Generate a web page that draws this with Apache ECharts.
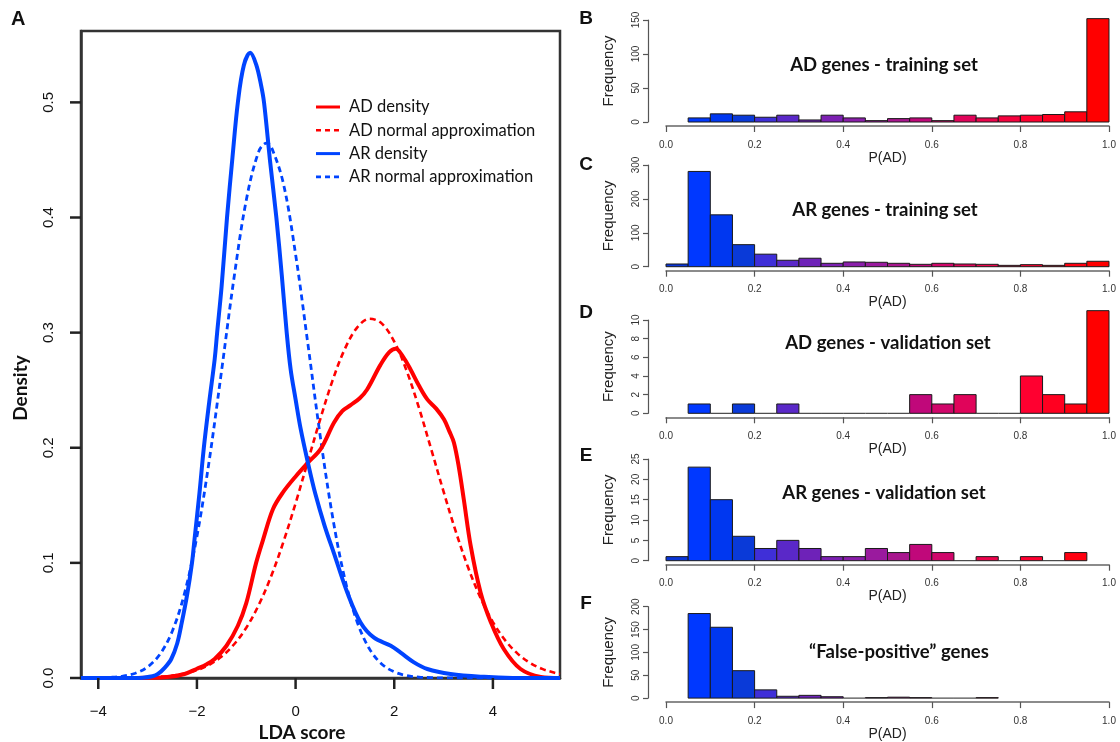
<!DOCTYPE html>
<html>
<head>
<meta charset="utf-8">
<script src="https://cdn.jsdelivr.net/npm/echarts@6/dist/echarts.min.js"></script>
<style>
html,body{margin:0;padding:0;background:#fff;}
#chart{width:1120px;height:742px;}
</style>
</head>
<body>
<div id="chart"></div>
<script>
// ---------- Panel A data (LDA score, density) ----------
const ldaTicks = [-4, -2, 0, 2, 4];
const densityTicks = [0, 0.1, 0.2, 0.3, 0.4, 0.5];
const seriesNames = ['AD density', 'AD normal approximation', 'AR density', 'AR normal approximation'];

const adDensity = [[-4.35,0],[-3.5,0],[-3.0,0.0002],[-2.6,0.0008],[-2.25,0.0035],[-2.0,0.008],[-1.8,0.012],[-1.64,0.0165],[-1.4,0.028],[-1.17,0.0454],[-1.0,0.065],[-0.8,0.1],[-0.66,0.12],[-0.46,0.1466],[-0.26,0.161],[0.01,0.1755],[0.25,0.187],[0.51,0.199],[0.78,0.222],[0.95,0.232],[1.115,0.237],[1.3,0.243],[1.45,0.2506],[1.72,0.272],[1.9,0.283],[2.03,0.286],[2.18,0.279],[2.33,0.268],[2.5,0.254],[2.67,0.242],[2.85,0.234],[3.01,0.2246],[3.12,0.214],[3.21,0.2044],[3.31,0.183],[3.41,0.155],[3.55,0.1147],[3.75,0.0743],[3.96,0.0483],[4.22,0.0252],[4.56,0.0078],[4.97,0.001],[5.36,0]];

const adNormal = [[-4.35,0],[-3.5,0.0001],[-3.0,0.0006],[-2.75,0.0011],[-2.5,0.0021],[-2.25,0.0039],[-2.0,0.0068],[-1.75,0.0115],[-1.5,0.0186],[-1.25,0.0291],[-1.0,0.0436],[-0.75,0.0632],[-0.5,0.0879],[-0.25,0.1178],[0,0.1518],[0.25,0.1884],[0.5,0.2249],[0.75,0.2585],[1.0,0.286],[1.25,0.3045],[1.5,0.3121],[1.75,0.3078],[2.0,0.2922],[2.25,0.267],[2.5,0.2348],[2.75,0.1986],[3.0,0.1619],[3.25,0.1269],[3.5,0.0957],[3.75,0.0695],[4.0,0.0486],[4.25,0.0327],[4.5,0.0212],[4.75,0.0132],[5.0,0.0079],[5.25,0.0046],[5.36,0.0035]];

const arDensity = [[-4.35,0],[-3.5,0],[-3.1,0.0003],[-2.9,0.0015],[-2.79,0.0035],[-2.65,0.009],[-2.52,0.0165],[-2.4,0.03],[-2.32,0.0454],[-2.2,0.072],[-2.1,0.1],[-2.05,0.12],[-1.95,0.16],[-1.86,0.2],[-1.75,0.24],[-1.64,0.277],[-1.59,0.3],[-1.5,0.34],[-1.39,0.4],[-1.28,0.452],[-1.17,0.5],[-1.05,0.532],[-0.92,0.543],[-0.8,0.533],[-0.7,0.515],[-0.64,0.5],[-0.52,0.45],[-0.39,0.4],[-0.28,0.35],[-0.18,0.3],[-0.1,0.268],[0,0.242],[0.1,0.217],[0.25,0.187],[0.4,0.16],[0.59,0.132],[0.78,0.108],[1.05,0.074],[1.32,0.048],[1.59,0.035],[1.93,0.028],[2.13,0.022],[2.4,0.0136],[2.67,0.0078],[3.14,0.0035],[3.82,0.001],[4.4,0.0001],[5.36,0]];

const arNormal = [[-4.35,0],[-4.0,0.0002],[-3.75,0.0006],[-3.5,0.0016],[-3.25,0.0041],[-3.0,0.0096],[-2.75,0.0206],[-2.5,0.0406],[-2.25,0.0737],[-2.0,0.123],[-1.75,0.189],[-1.5,0.267],[-1.25,0.347],[-1.0,0.415],[-0.75,0.457],[-0.59,0.4646],[-0.5,0.462],[-0.25,0.43],[0,0.368],[0.25,0.29],[0.5,0.21],[0.75,0.14],[1.0,0.0858],[1.25,0.0485],[1.5,0.0251],[1.75,0.012],[2.0,0.0053],[2.25,0.0021],[2.5,0.0008],[2.75,0.0003],[3.0,0.0001],[3.5,0],[5.36,0]];

// ---------- Panels B-F data (histograms of P(AD), bins of 0.05) ----------
const binStarts = [0,0.05,0.1,0.15,0.2,0.25,0.3,0.35,0.4,0.45,0.5,0.55,0.6,0.65,0.7,0.75,0.8,0.85,0.9,0.95];
const binWidth = 0.05;
const adTrain  = [null,6,12,10,7,10,3,10,6,2,5,6,2,10,6,9,10,11,15,152];
const arTrain  = [8,281,153,65,37,19,25,10,14,13,10,7,10,8,7,4,6,4,10,16];
const adValid  = [null,1,0,1,0,1,0,0,0,0,0,2,1,2,0,0,4,2,1,11];
const arValid  = [1,23,15,6,3,5,3,1,1,3,2,4,2,0,1,0,1,0,2,null];
const falsePos = [null,185,155,60,18,4,6,3,0,1,2,1,0,0,1,null,null,null,null,null];

const histTitles = ['AD genes - training set','AR genes - training set','AD genes - validation set','AR genes - validation set','\u201cFalse-positive\u201d genes'];
const histYMax = [150, 300, 10, 25, 200];
const histYStep = [50, 100, 2, 5, 50];

// ---------- styles ----------
const palette = ['#0a36d8','#0038ff','#0037f0','#0a3ad8','#3f2fd8','#5a28c8','#6e22b8','#7c20b2','#8a1eaa','#9a1a9e','#a8168e','#c0087a','#d0066a','#e0045a','#ec044c','#f5023e','#ff0030','#ff0020','#ff0010','#ff0000'];
const RED = '#ff0000', BLUE = '#0044ff';
const histLayout = [
  {top: 20,    height: 102,   titleY: 65,  letter: 'B', letterY: 19},
  {top: 165,   height: 101.7, titleY: 210, letter: 'C', letterY: 165},
  {top: 320,   height: 93.3,  titleY: 343, letter: 'D', letterY: 313},
  {top: 459,   height: 101.7, titleY: 493, letter: 'E', letterY: 456},
  {top: 606.7, height: 101.7, titleY: 652, letter: 'F', letterY: 604}
];
const histData = [adTrain, arTrain, adValid, arValid, falsePos];
const titleX = [884, 885, 888, 884, 899];

const minus = v => (v < 0 ? '\u2212' + Math.abs(v) : String(v));
const boxLine = {show: true, onZero: false, lineStyle: {color: '#333', width: 2.5}};
const TICK_LEN = 11;
const TICK_COLOR = '#222';

const grids = [{left: 81, top: 31, width: 479, height: 647, show: true, borderColor: '#333', borderWidth: 2.5, backgroundColor: 'transparent'}];
const xAxes = [{
  gridIndex: 0, type: 'value', min: -4.35, max: 5.36,
  axisLine: boxLine,
  axisTick: {show: false},
  axisLabel: {customValues: ldaTicks, formatter: minus, fontSize: 15, color: '#111', fontFamily: 'Liberation Sans', margin: 26},
  splitLine: {show: false}
}];
const yAxes = [{
  gridIndex: 0, type: 'value', min: 0, max: 0.562,
  axisLine: boxLine,
  axisTick: {show: false},
  axisLabel: {customValues: densityTicks, formatter: v => v.toFixed(1), rotate: 90, fontSize: 15, color: '#111', fontFamily: 'Liberation Sans', margin: 25},
  splitLine: {show: false}
}];

const series = [
  {name: seriesNames[0], type: 'line', data: adDensity, smooth: 0.35, showSymbol: false, symbol: 'none', lineStyle: {color: RED, width: 4}, itemStyle: {color: RED}, z: 3},
  {name: seriesNames[1], type: 'line', data: adNormal, smooth: 0.35, showSymbol: false, symbol: 'none', lineStyle: {color: RED, width: 2.6, type: [6, 4]}, itemStyle: {color: RED}, z: 2},
  {name: seriesNames[2], type: 'line', data: arDensity, smooth: 0.35, showSymbol: false, symbol: 'none', lineStyle: {color: BLUE, width: 4}, itemStyle: {color: BLUE}, z: 3},
  {name: seriesNames[3], type: 'line', data: arNormal, smooth: 0.35, showSymbol: false, symbol: 'none', lineStyle: {color: BLUE, width: 2.8, type: [6, 4]}, itemStyle: {color: BLUE}, z: 2}
];

const graphics = [
  {type: 'text', left: 11, top: 9, style: {text: 'A', font: 'bold 20px "Liberation Sans"', fill: '#111'}},
  {type: 'text', x: 21, y: 388, rotation: Math.PI / 2, style: {text: 'Density', font: 'bold 19px Lato', fill: '#111', textAlign: 'center', textVerticalAlign: 'middle'}},
  {type: 'text', x: 302, y: 733, style: {text: 'LDA score', font: 'bold 19px Lato', fill: '#111', textAlign: 'center', textVerticalAlign: 'middle'}}
];

// manual legend (line samples drawn like the R legend)
const legendStyles = [
  {color: RED, dash: null, width: 3},
  {color: RED, dash: [5, 4], width: 2.6},
  {color: BLUE, dash: null, width: 3},
  {color: BLUE, dash: [5, 4], width: 2.6}
];
seriesNames.forEach((nm, i) => {
  const y = 107 + i * 23.3;
  const s = legendStyles[i];
  graphics.push({type: 'line', shape: {x1: 316, y1: y, x2: 340, y2: y}, style: {stroke: s.color, lineWidth: s.width, lineDash: s.dash}});
  graphics.push({type: 'text', x: 349, y: y, style: {text: nm, font: '16.5px Lato', fill: '#111', textVerticalAlign: 'middle'}});
});

histLayout.forEach((L, k) => {
  const gi = k + 1;
  grids.push({left: 666, width: 443, top: L.top, height: L.height});
  xAxes.push({
    gridIndex: gi, type: 'value', min: 0, max: 1, interval: 0.2, offset: 4,
    name: 'P(AD)', nameLocation: 'middle', nameGap: 15,
    nameTextStyle: {fontSize: 14, color: '#222', fontFamily: 'Liberation Sans'},
    axisLine: {show: true, onZero: false, lineStyle: {color: '#666', width: 1.5}},
    axisTick: {show: true, length: 6, lineStyle: {color: '#555', width: 1.2}},
    axisLabel: {formatter: v => v.toFixed(1), fontSize: 10, color: '#333', fontFamily: 'Liberation Sans', margin: 14},
    splitLine: {show: false}
  });
  yAxes.push({
    gridIndex: gi, type: 'value', min: 0, max: histYMax[k], interval: histYStep[k], offset: 18,
    name: 'Frequency', nameLocation: 'middle', nameGap: 32,
    nameTextStyle: {fontSize: 15, color: '#222', fontFamily: 'Liberation Sans'},
    axisLine: {show: true, onZero: false, lineStyle: {color: '#555', width: 1.2}},
    axisTick: {show: true, length: 5, lineStyle: {color: '#555', width: 1.2}},
    axisLabel: {rotate: 90, fontSize: 10, color: '#333', fontFamily: 'Liberation Sans', margin: 7},
    splitLine: {show: false}
  });
  const counts = histData[k];
  const data = [];
  counts.forEach((c, i) => { if (c !== null) data.push([binStarts[i], binStarts[i] + binWidth, c, i]); });
  series.push({
    type: 'custom', xAxisIndex: gi, yAxisIndex: gi, clip: false,
    encode: {x: [0, 1], y: 2},
    data: data,
    renderItem: (params, api) => {
      const p0 = api.coord([api.value(0), 0]);
      const p1 = api.coord([api.value(1), api.value(2)]);
      const idx = api.value(3);
      if (api.value(2) === 0) {
        return {type: 'line', shape: {x1: p0[0], y1: p0[1], x2: p1[0], y2: p0[1]}, style: {stroke: '#222', lineWidth: 1}};
      }
      return {type: 'rect', shape: {x: p0[0], y: p1[1], width: p1[0] - p0[0], height: p0[1] - p1[1]},
              style: {fill: palette[idx], stroke: '#1a1a1a', lineWidth: 1}};
    }
  });
  graphics.push({type: 'text', x: titleX[k], y: L.titleY, style: {text: histTitles[k], font: 'bold 18.5px Lato', fill: '#111', textAlign: 'center', textVerticalAlign: 'middle'}});
  graphics.push({type: 'text', x: 586, y: L.letterY, style: {text: L.letter, font: 'bold 19px "Liberation Sans"', fill: '#111', textAlign: 'center', textVerticalAlign: 'middle'}});
});

const chart = echarts.init(document.getElementById('chart'), null, {renderer: 'canvas'});
chart.setOption({
  animation: false,
  backgroundColor: '#fff',
  grid: grids,
  xAxis: xAxes,
  yAxis: yAxes,
  series: series
});

// outward tick marks of panel A, positioned through the axes' own scales
const finder = {xAxisIndex: 0, yAxisIndex: 0};
const corner = chart.convertToPixel(finder, [-4.35, 0]);
ldaTicks.forEach(v => {
  const p = chart.convertToPixel(finder, [v, 0]);
  graphics.push({type: 'line', z: 10, shape: {x1: p[0], y1: corner[1], x2: p[0], y2: corner[1] + TICK_LEN}, style: {stroke: TICK_COLOR, lineWidth: 2.5}});
});
densityTicks.forEach(v => {
  const p = chart.convertToPixel(finder, [-4.35, v]);
  graphics.push({type: 'line', z: 10, shape: {x1: corner[0], y1: p[1], x2: corner[0] - TICK_LEN, y2: p[1]}, style: {stroke: TICK_COLOR, lineWidth: 2.5}});
});
chart.setOption({graphic: graphics});
</script>
</body>
</html>
